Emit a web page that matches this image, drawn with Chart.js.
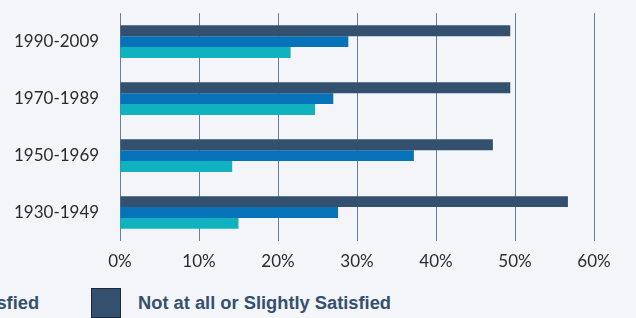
<!DOCTYPE html>
<html lang="en">
<head>
    <meta charset="UTF-8">
    <title>Satisfaction by generation</title>
    <style>
        body { margin: 0; background: #f3f5f8; width: 636px; height: 318px; overflow: hidden; position: relative; }
        .chart-box { position: absolute; left: 0; top: 0; width: 636px; height: 272px; }
        #legend { position: absolute; right: 245px; top: 288px; display: flex; white-space: nowrap;
                  font-family: "Liberation Sans", Arial, sans-serif; font-weight: bold; font-size: 18.3px; color: #34506f; }
        #legend .item { display: flex; align-items: center; margin-left: 52px; }
        #legend .box { width: 28px; height: 28px; border: 1px solid #1e2a38; margin-right: 17px; }
    </style>
</head>
<body>
    <div class="chart-box"><canvas id="chart"></canvas></div>
    <div id="legend"></div>

    <script src="https://cdn.jsdelivr.net/npm/chart.js"></script>
    <script>
        const periods = ['1990-2009', '1970-1989', '1950-1969', '1930-1949'];
        const notSatisfied = [49.4, 49.4, 47.2, 56.7];
        const moderately = [28.9, 27.0, 37.2, 27.6];
        const verySatisfied = [21.6, 24.7, 14.2, 15.0];
        const xTicks = [0, 10, 20, 30, 40, 50, 60];

        // bars top -> bottom in each group
        const series = [
            { label: 'Not at all or Slightly Satisfied', data: notSatisfied, color: '#34506f' },
            { label: 'Moderately Satisfied', data: moderately, color: '#0572b9' },
            { label: 'Very or Extremely Satisfied', data: verySatisfied, color: '#10b2bf' }
        ];

        const ctx = document.getElementById('chart').getContext('2d');
        new Chart(ctx, {
            type: 'bar',
            data: {
                labels: periods,
                datasets: series.map(s => ({
                    label: s.label,
                    data: s.data,
                    backgroundColor: s.color,
                    borderWidth: 0,
                    categoryPercentage: 0.574,
                    barPercentage: 1
                }))
            },
            options: {
                indexAxis: 'y',
                responsive: true,
                maintainAspectRatio: false,
                animation: false,
                layout: { padding: { left: 14, right: 42, top: 11, bottom: 0 } },
                plugins: { legend: { display: false }, tooltip: { enabled: false } },
                scales: {
                    x: {
                        min: 0, max: 60,
                        afterBuildTicks: axis => { axis.ticks = xTicks.map(v => ({ value: v })); },
                        afterFit: axis => { axis.height = 31; },
                        border: { display: false },
                        grid: { color: '#6b7c95', lineWidth: 1, drawTicks: false },
                        ticks: {
                            padding: 10,
                            color: '#2b2b2b',
                            font: { family: 'Lato', size: 17 },
                            callback: v => v + '%'
                        }
                    },
                    y: {
                        afterFit: axis => { axis.width = 106; },
                        border: { display: false },
                        grid: { display: false },
                        ticks: {
                            crossAlign: 'far',
                            color: '#2b2b2b',
                            font: { family: 'Lato', size: 17 }
                        }
                    }
                }
            }
        });

        // legend in source order: light first
        const legend = document.getElementById('legend');
        series.slice().reverse().forEach(s => {
            const item = document.createElement('div');
            item.className = 'item';
            item.innerHTML = '<span class="box" style="background:' + s.color + '"></span>' + s.label;
            legend.appendChild(item);
        });
    </script>
</body>
</html>
